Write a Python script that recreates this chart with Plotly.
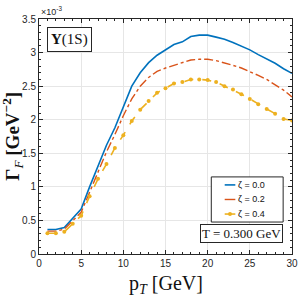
import plotly.graph_objects as go

pT = list(range(1, 31))
# Gamma_F in units of 1e-3 GeV^-2
gamma_z00 = [0.365, 0.365, 0.395, 0.54, 0.67, 1.00, 1.32, 1.62, 1.88, 2.20,
             2.50, 2.70, 2.85, 2.96, 3.04, 3.12, 3.16, 3.24, 3.26, 3.26,
             3.23, 3.20, 3.15, 3.10, 3.04, 2.97, 2.91, 2.84, 2.76, 2.69]
gamma_z02 = [0.34, 0.34, 0.37, 0.50, 0.62, 0.92, 1.22, 1.52, 1.78, 2.06,
             2.31, 2.50, 2.63, 2.72, 2.77, 2.81, 2.84, 2.89, 2.90, 2.90,
             2.88, 2.85, 2.81, 2.77, 2.72, 2.66, 2.60, 2.52, 2.44, 2.34]
gamma_z04 = [0.31, 0.31, 0.33, 0.45, 0.57, 0.86, 1.12, 1.34, 1.58, 1.77,
             1.98, 2.15, 2.28, 2.40, 2.47, 2.54, 2.56, 2.60, 2.60, 2.59,
             2.56, 2.50, 2.45, 2.38, 2.31, 2.23, 2.16, 2.09, 2.01, 1.99]
series_names = ["ζ = 0.0", "ζ = 0.2", "ζ = 0.4"]
x_ticks = [0, 5, 10, 15, 20, 25, 30]
y_ticks = [0, 0.5, 1, 1.5, 2, 2.5, 3, 3.5]
y_ticklabels = ["0", "0.5", "1", "1.5", "2", "2.5", "3", "3.5"]

colors = ["#0072BD", "#D95319", "#EDB120"]
dashes = ["solid", "dashdot", "dash"]
widths = [1.6, 1.4, 1.6]

fig = go.Figure()
for ys, name, c, d, w in zip([gamma_z00, gamma_z02, gamma_z04], series_names, colors, dashes, widths):
    mode = "lines+markers" if name == series_names[2] else "lines"
    fig.add_trace(go.Scatter(x=pT, y=ys, name=name, mode=mode, showlegend=False,
                             line=dict(color=c, width=w, dash=d),
                             marker=dict(color=c, size=4, symbol="circle")))

axis_common = dict(showline=True, linecolor="#262626", linewidth=1, mirror="ticks",
                   ticks="inside", ticklen=4, tickcolor="#262626", tickwidth=1,
                   showgrid=True, gridcolor="#E6E6E6", gridwidth=1, zeroline=False,
                   ticklabeloverflow="allow", automargin=False,
                   tickfont=dict(family="Liberation Sans", size=10, color="#262626"))

fig.update_xaxes(range=[0, 30], tickvals=x_ticks,
                 minor=dict(dtick=1, ticks="inside", ticklen=2, tickcolor="#262626", showgrid=False),
                 **axis_common)
fig.update_yaxes(range=[0, 3.5], tickvals=y_ticks, ticktext=y_ticklabels,
                 minor=dict(dtick=0.1, ticks="inside", ticklen=2, tickcolor="#262626", showgrid=False),
                 **axis_common)

# manual compact legend (paper coordinates)
shapes = [dict(type="rect", xref="paper", yref="paper", x0=0.681, x1=0.965, y0=0.136, y1=0.328,
               line=dict(color="#262626", width=1), fillcolor="white", layer="above")]
annotations = []
legend_y = [0.294, 0.232, 0.170]
for i, (name, c, d, w) in enumerate(zip(series_names, colors, dashes, widths)):
    yy = legend_y[i]
    shapes.append(dict(type="line", xref="paper", yref="paper", x0=0.734, x1=0.776, y0=yy, y1=yy,
                       line=dict(color=c, width=w), layer="above"))
    annotations.append(dict(text=name, xref="paper", yref="paper", x=0.778, y=yy,
                            xanchor="left", yanchor="middle", showarrow=False,
                            font=dict(family="Liberation Sans", size=9, color="#111")))
shapes.append(dict(type="circle", xref="paper", yref="paper",
                   x0=0.755 - 0.008, x1=0.755 + 0.008, y0=legend_y[2] - 0.0085, y1=legend_y[2] + 0.0085,
                   line=dict(color=colors[2], width=0), fillcolor=colors[2], layer="above"))

annotations += [
    dict(text="p<sub><i>T</i></sub> [GeV]", xref="paper", yref="paper", x=0.5, y=-0.128,
         xanchor="center", yanchor="middle", showarrow=False,
         font=dict(family="Liberation Serif", size=20, color="#111")),
    dict(text="<b>Γ</b><sub><i>F</i></sub> <b>[GeV<sup>−2</sup>]</b>", xref="paper", yref="paper",
         x=-0.106, y=0.50, xanchor="center", yanchor="middle", textangle=-90, showarrow=False,
         font=dict(family="Liberation Serif", size=19, color="#111")),
    dict(text="×10<sup>-3</sup>", xref="paper", yref="paper", x=0.0, y=1.0,
         xanchor="left", yanchor="bottom", showarrow=False,
         font=dict(family="Liberation Sans", size=9, color="#262626")),
    dict(text="<b>Υ</b>(1S)", xref="paper", yref="paper", x=0.03, y=0.967,
         xanchor="left", yanchor="top", showarrow=False,
         bordercolor="#262626", borderwidth=1, borderpad=3, bgcolor="white",
         font=dict(family="Liberation Serif", size=15, color="#111")),
    dict(text="T = 0.300 GeV", xref="paper", yref="paper", x=0.965, y=0.128,
         xanchor="right", yanchor="top", showarrow=False,
         bordercolor="#262626", borderwidth=1, borderpad=1, bgcolor="white",
         font=dict(family="Liberation Serif", size=13, color="#111")),
]

fig.update_layout(
    width=300, height=300,
    margin=dict(l=39, r=8, t=19, b=46),
    plot_bgcolor="white", paper_bgcolor="white",
    showlegend=False,
    shapes=shapes,
    annotations=annotations,
)

fig.write_html("out.html", config={"displayModeBar": False},
               post_script="document.body.style.margin='0px';")
